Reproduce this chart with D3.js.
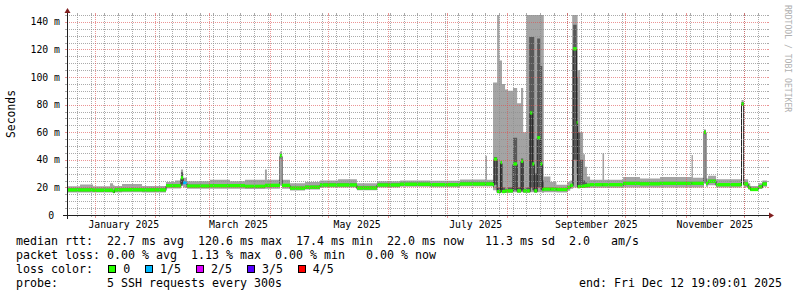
<!DOCTYPE html>
<html>
<head>
<meta charset="utf-8">
<script src="https://cdn.jsdelivr.net/npm/d3@7"></script>
<style>
  html, body { margin: 0; padding: 0; background: #fff; }
  svg { display: block; }
  text { font-family: "DejaVu Sans Mono", monospace; white-space: pre; }
</style>
</head>
<body>
<svg width="797" height="297"></svg>
<script>
// smokeping "last 360 days" graph, values in ms, one row per step start (days since graph start)
var endTime = new Date(Date.UTC(2025, 11, 12, 19, 9, 1))
  , spanDays = 360
  , DAY = 864e5
  , startTime = new Date(+endTime - spanDays * DAY)

var dayOffset = [0, 6.7, 13.4, 22.1, 23.7, 24.4, 28.3, 38.6, 50.9, 55.5
  , 58.6, 59.7, 61.7, 73.5, 83.8, 91.5, 101.8, 102.8, 109.5, 110.6
  , 114.7, 122.4, 130.1, 139.4, 149.1, 159.4, 171.3, 186.7, 202.1, 215.2
  , 216.0, 219.1, 219.6, 221.2, 222.4, 223.0, 223.7, 225.3, 226.8, 229.4
  , 231.5, 233.5, 234.6, 236.2, 237.7, 238.2, 239.3, 240.3, 241.8, 243.4
  , 244.4, 245.2, 248.6, 251.7, 257.3, 258.8, 259.8, 260.3, 262.1, 262.6
  , 263.9, 265.4, 266.4, 267.4, 269.0, 275.4, 276.2, 286.0, 294.7, 305.0
  , 321.2, 321.9, 327.6, 328.6, 329.7, 333.8, 346.9, 348.0, 350.3, 351.4
  , 355.5, 357.6]

var minMs = [16.4, 16.4, 16.3, 16.3, 16.0, 16.4, 16.5, 16.4, 19.2, 19.2
  , 21.0, 20.0, 19.0, 19.0, 19.0, 18.8, 19.0, 19.0, 41.0, 19.0
  , 17.8, 18.4, 20.0, 20.0, 18.0, 20.0, 20.4, 20.2, 20.6, 20.6
  , 20.6, 18.0, 18.0, 16.0, 16.0, 16.5, 16.0, 16.0, 16.0, 16.5
  , 16.0, 16.5, 16.0, 16.0, 16.0, 16.5, 16.5, 16.0, 16.5, 16.5
  , 16.0, 16.5, 16.5, 16.4, 17.5, 19.0, 19.0, 20.0, 20.0, 19.5
  , 19.5, 19.5, 19.5, 19.6, 19.8, 19.8, 19.8, 20.0, 20.0, 20.0
  , 20.0, 20.0, 58.5, 20.5, 21.5, 20.0, 79.0, 20.2, 18.5, 17.5
  , 18.8, 20.5]

var p2Ms = [17.3, 17.3, 17.1, 17.1, 16.4, 17.3, 17.4, 17.3, 20.3, 20.3
  , 22.0, 22.5, 20.1, 20.3, 20.4, 19.9, 20.6, 20.6, 42.0, 20.6
  , 18.6, 19.3, 20.9, 20.9, 18.7, 20.9, 21.4, 21.1, 21.6, 21.6
  , 21.6, 20.0, 22.0, 16.5, 16.5, 18.0, 16.5, 16.8, 16.8, 18.0
  , 16.8, 18.0, 16.8, 16.8, 16.8, 20.0, 18.0, 16.8, 20.0, 18.0
  , 17.5, 17.9, 17.9, 17.6, 19.1, 20.6, 20.5, 40.0, 30.0, 20.0
  , 20.0, 20.2, 20.4, 20.7, 21.1, 21.1, 21.1, 22.1, 21.7, 22.1
  , 22.1, 22.1, 59.5, 22.1, 23.6, 21.1, 80.0, 21.6, 19.1, 17.6
  , 19.6, 21.6]

var medianMs = [18.2, 18.2, 18.0, 18.0, 17.0, 18.2, 18.3, 18.2, 21.2, 21.2
  , 27.0, 23.5, 21.0, 21.2, 21.3, 20.8, 21.5, 21.5, 43.0, 21.5
  , 19.5, 20.2, 21.8, 21.8, 19.6, 21.8, 22.3, 22.0, 22.5, 22.5
  , 22.5, 22.0, 40.5, 17.0, 17.0, 38.0, 17.0, 17.5, 17.5, 37.0
  , 17.5, 39.0, 17.5, 17.5, 17.5, 74.0, 37.0, 17.5, 56.0, 37.0
  , 18.5, 18.8, 18.8, 18.5, 20.0, 21.5, 21.5, 120.5, 67.0, 20.5
  , 20.8, 21.0, 21.3, 21.6, 22.0, 22.0, 22.0, 23.0, 22.6, 23.0
  , 23.0, 23.0, 60.0, 23.0, 24.5, 22.0, 80.5, 22.5, 20.0, 18.5
  , 20.5, 22.5]

var p4Ms = [19.2, 19.2, 19.0, 19.0, 18.2, 19.2, 19.3, 19.2, 22.2, 22.2
  , 31.0, 24.5, 22.0, 22.2, 22.3, 21.8, 22.5, 22.5, 44.0, 22.5
  , 20.5, 21.2, 22.8, 22.8, 20.6, 22.8, 23.3, 23.0, 23.5, 23.5
  , 23.5, 25.0, 42.0, 20.0, 20.0, 39.0, 20.0, 19.0, 20.0, 56.0
  , 20.0, 41.0, 19.0, 20.0, 129, 129, 129, 30.0, 128, 108
  , 25.0, 19.8, 19.8, 19.5, 21.0, 22.5, 40.0, 138, 100, 60.0
  , 40.0, 25.0, 23.5, 22.6, 23.0, 23.0, 23.0, 24.0, 23.6, 24.0
  , 24.0, 24.0, 61.0, 24.0, 25.5, 23.0, 82.0, 23.5, 21.0, 19.5
  , 21.5, 23.5]

var maxMs = [20.8, 22.2, 20.8, 23.0, 21.5, 21.0, 22.5, 21.0, 24.0, 25.0
  , 33.0, 27.0, 24.5, 25.5, 24.5, 25.5, 33.0, 25.5, 46.0, 25.5
  , 23.0, 24.0, 25.0, 26.0, 23.0, 24.5, 25.0, 24.8, 25.8, 43.0
  , 25.5, 96, 96, 150, 112, 112, 95, 91, 90, 92
  , 81, 92, 60, 150, 150, 150, 150, 150, 150, 150
  , 150, 28.0, 24.0, 22.0, 24.0, 25.0, 150, 150, 150, 105
  , 60.0, 44.0, 35.0, 28.0, 25.5, 44.7, 25.5, 27.5, 26.5, 27.5
  , 43.5, 27.0, 62.0, 26.5, 28.5, 26.0, 83.4, 26.0, 23.0, 21.0
  , 23.0, 25.0]

// lost pings out of 5 for each step
var lossIdx = [0, 0, 0, 0, 0, 0, 0, 0, 0, 0
  , 0, 1, 0, 0, 0, 0, 0, 0, 0, 0
  , 0, 0, 0, 0, 0, 0, 0, 0, 0, 0
  , 0, 0, 0, 0, 0, 0, 0, 0, 0, 0
  , 0, 0, 0, 0, 0, 0, 0, 0, 0, 0
  , 0, 0, 0, 0, 0, 0, 0, 0, 0, 0
  , 0, 0, 0, 0, 0, 0, 0, 0, 0, 0
  , 0, 0, 0, 0, 0, 0, 0, 0, 0, 0
  , 0, 0]

var yMax = 145
  , yMinorStep = 5
  , yMajorStep = 20
var lossLabels = ['0', '1/5', '2/5', '3/5', '4/5']
  , lossColors = ['#26ff00', '#00b8ff', '#dd00ff', '#5500ff', '#ff0000']
var statLines = [ 'median rtt:  22.7 ms avg  120.6 ms max  17.4 ms min  22.0 ms now   11.3 ms sd  2.0   am/s'
                , 'packet loss: 0.00 % avg  1.13 % max  0.00 % min   0.00 % now' ]
var probeText = 'probe:       5 SSH requests every 300s'
  , endText = 'end: Fri Dec 12 19:09:01 2025'

var svg = d3.select('svg')
  , X0 = 67, X1 = 767, Y0 = 215, Y1 = 15

var x = d3.scaleUtc().domain([startTime, endTime]).range([X0, X1])
var y = d3.scaleLinear().domain([0, yMax]).range([Y0, Y1])

var rows = dayOffset.map(function (d, i) {
  return { t: new Date(+startTime + d * DAY), lo: minMs[i], p2: p2Ms[i], med: medianMs[i]
         , p4: p4Ms[i], hi: maxMs[i], loss: lossIdx[i] }
})
rows.push(Object.assign({}, rows[rows.length - 1], { t: endTime }))

svg.append('clipPath').attr('id', 'plotclip')
  .append('rect').attr('x', X0).attr('y', Y1).attr('width', X1 - X0).attr('height', Y0 - Y1)
var plot = svg.append('g').attr('clip-path', 'url(#plotclip)')

function band(a, b) {
  return d3.area().curve(d3.curveStepAfter)
    .x(function (d) { return x(d.t) })
    .y0(function (d) { return y(d[a]) })
    .y1(function (d) { return y(d[b]) })
}

// smoke: outer pings light, inner pings dark
plot.append('path').datum(rows).attr('d', band('lo', 'hi')).attr('fill', '#a4a4a4')
plot.append('path').datum(rows).attr('d', band('p2', 'p4')).attr('fill', '#585858')

plot.append('path').datum(rows)
  .attr('d', d3.line().curve(d3.curveStepAfter)
    .x(function (d) { return x(d.t) })
    .y(function (d) { return Math.round(y(d.med)) + .5 }))
  .attr('fill', 'none').attr('stroke', '#202020').attr('stroke-width', 1)

// median coloured by loss
var halfBand = 1.2
plot.selectAll('rect.med').data(rows.slice(0, -1)).enter().append('rect')
  .attr('class', 'med')
  .attr('x', function (d) { return x(d.t) })
  .attr('width', function (d, i) { return x(rows[i + 1].t) - x(d.t) })
  .attr('y', function (d) { return y(d.med + halfBand) })
  .attr('height', function (d) { return y(d.med - halfBand) - y(d.med + halfBand) })
  .attr('fill', function (d) { return lossColors[d.loss] })

// grid on top of the data, like rrdtool
var gridCol = 'rgba(143,143,143,0.75)'
  , mgridCol = 'rgba(222,79,79,0.6)'
var grid = svg.append('g')

var yMinor = d3.range(0, yMax + 0.01, yMinorStep).filter(function (v) { return v % yMajorStep && v > 0 })
  , yMajor = d3.range(yMajorStep, yMax, yMajorStep)

function hline(vals, col) {
  vals.forEach(function (v) {
    var py = Math.round(y(v)) + .5
    grid.append('line').attr('x1', X0).attr('x2', X1).attr('y1', py).attr('y2', py)
      .attr('stroke', col).attr('stroke-dasharray', '1,1')
    grid.append('line').attr('x1', X0 - 2).attr('x2', X0).attr('y1', py).attr('y2', py).attr('stroke', col)
    grid.append('line').attr('x1', X1).attr('x2', X1 + 2).attr('y1', py).attr('y2', py).attr('stroke', col)
  })
}
function vline(dates, col, tick) {
  dates.forEach(function (t) {
    var px = Math.round(x(t)) + .5
    grid.append('line').attr('x1', px).attr('x2', px).attr('y1', Y1).attr('y2', Y0)
      .attr('stroke', col).attr('stroke-dasharray', '1,1')
    grid.append('line').attr('x1', px).attr('x2', px).attr('y1', Y1 - 2).attr('y2', Y1).attr('stroke', col)
    grid.append('line').attr('x1', px).attr('x2', px).attr('y1', Y0).attr('y2', Y0 + tick).attr('stroke', col)
  })
}
hline(yMinor, gridCol)
vline(d3.utcMonday.range(startTime, endTime), gridCol, 2)
hline(yMajor, mgridCol)
vline(d3.utcMonth.range(startTime, endTime), mgridCol, 3)

// axes + arrows
var axisCol = '#1f1f1f', arrowCol = '#801f1f'
svg.append('line').attr('x1', X0 - 4).attr('x2', X1 + 4).attr('y1', Y0 + .5).attr('y2', Y0 + .5).attr('stroke', axisCol)
svg.append('line').attr('x1', X0 + .5).attr('x2', X0 + .5).attr('y1', Y0 + 4).attr('y2', Y1 - 4).attr('stroke', axisCol)
svg.append('path').attr('fill', arrowCol)
  .attr('d', 'M' + (X1 + 2) + ',' + (Y0 - 3 + .5) + 'L' + (X1 + 2) + ',' + (Y0 + 3 + .5) + 'L' + (X1 + 7) + ',' + (Y0 + .5) + 'Z')
svg.append('path').attr('fill', arrowCol)
  .attr('d', 'M' + (X0 - 3 + .5) + ',' + (Y1 - 2) + 'L' + (X0 + 3 + .5) + ',' + (Y1 - 2) + 'L' + (X0 + .5) + ',' + (Y1 - 7) + 'Z')

// axis labels
var axisFont = '9.8px'
svg.selectAll('text.ylab').data(d3.range(0, yMax, yMajorStep)).enter().append('text')
  .attr('class', 'ylab')
  .attr('x', X0 - 7).attr('y', function (v) { return y(v) }).attr('dy', '0.36em')
  .attr('text-anchor', 'end').style('font-size', axisFont).attr('fill', '#000')
  .text(function (v) { return v === 0 ? '0 ' : v + ' m' })

svg.selectAll('text.xlab').data(d3.utcMonth.every(2).range(startTime, endTime)).enter().append('text')
  .attr('class', 'xlab')
  .attr('x', function (m) { return x(d3.utcDay.offset(m, 15)) }).attr('y', 228)
  .attr('text-anchor', 'middle').style('font-size', axisFont).attr('fill', '#000')
  .text(d3.utcFormat('%B %Y'))

svg.append('text').attr('transform', 'translate(15,114) rotate(-90)')
  .attr('text-anchor', 'middle').style('font-size', '11.4px').attr('fill', '#000').text('Seconds')

svg.append('text').attr('transform', 'translate(784.5,5) rotate(90)')
  .attr('text-anchor', 'start').style('font-size', '8.1px').attr('fill', '#b0b0b0').text('RRDTOOL / TOBI OETIKER')

// legend
var legFont = '11.63px', cw = 7, lx = 16
statLines.forEach(function (s, i) {
  svg.append('text').attr('x', lx).attr('y', 245 + i * 14).style('font-size', legFont).attr('fill', '#000').text(s)
})
svg.append('text').attr('x', lx).attr('y', 273).style('font-size', legFont).attr('fill', '#000').text('loss color:')
var bx = 108.3
lossLabels.forEach(function (lab, i) {
  svg.append('rect').attr('x', Math.round(bx) + .5).attr('y', 265.5).attr('width', 7).attr('height', 7)
    .attr('fill', lossColors[i]).attr('stroke', '#000')
  svg.append('text').attr('x', bx + 14.9).attr('y', 273).style('font-size', legFont).attr('fill', '#000').text(lab)
  bx += 14.9 + lab.length * cw + 15
})
svg.append('text').attr('x', lx).attr('y', 287).style('font-size', legFont).attr('fill', '#000').text(probeText)
svg.append('text').attr('x', 782).attr('y', 287).attr('text-anchor', 'end').style('font-size', legFont).attr('fill', '#000').text(endText)
</script>
</body>
</html>
